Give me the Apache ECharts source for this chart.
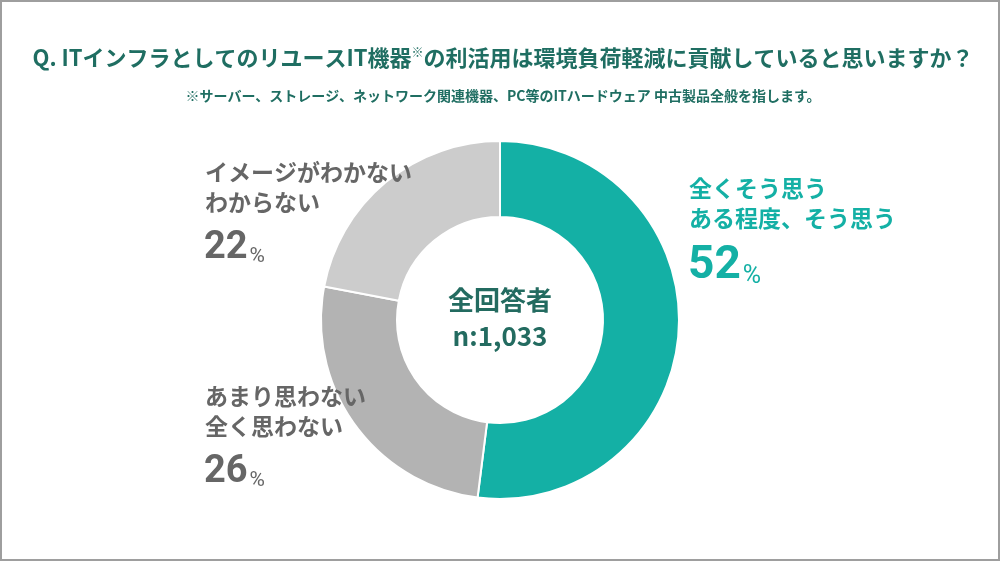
<!DOCTYPE html>
<html><head><meta charset="utf-8">
<script src="https://cdn.jsdelivr.net/npm/echarts@6/dist/echarts.min.js"></script>
<style>html,body{margin:0;padding:0;background:#fff}#c{width:1000px;height:561px}</style>
</head><body><div id="c"></div>
<script>
const titleMain = 'Q. ITインフラとしてのリユースIT機器';
const titleNote = '※';
const titleRest = 'の利活用は環境負荷軽減に貢献していると思いますか？';
const subtitle = '※サーバー、ストレージ、ネットワーク関連機器、PC等のITハードウェア 中古製品全般を指します。';
const categories = ['全くそう思う\nある程度、そう思う', 'あまり思わない\n全く思わない', 'イメージがわかない\nわからない'];
const values = [52, 26, 22];
const colors = ['#14b0a5', '#b3b3b3', '#cccccc'];
const centerLines = ['全回答者', 'n:1,033'];

const JP = '"Noto Sans CJK JP", "Noto Sans", sans-serif';
const NUM = 'Roboto, "Noto Sans", sans-serif';
const chart = echarts.init(document.getElementById('c'));

function labelBlock(idx, x, y1, yNum, color, numSize, pSize) {
  const lines = categories[idx].split('\n');
  const els = lines.map((t, i) => ({
    type: 'text', x: x, y: y1 + i * 30, z: 100,
    style: { text: t, fill: color, font: 'bold 23px ' + JP, align: 'left', verticalAlign: 'middle' }
  }));
  els.push({
    type: 'text', x: x - 1, y: yNum, z: 100,
    style: {
      text: '{n|' + values[idx] + '}{p|%}', align: 'left', verticalAlign: 'middle',
      rich: {
        n: { fontSize: numSize, fontWeight: 'bold', fontFamily: NUM, fill: color, verticalAlign: 'bottom', lineHeight: numSize },
        p: { fontSize: pSize, fontWeight: 'normal', fontFamily: NUM, fill: color, verticalAlign: 'bottom', lineHeight: numSize, padding: [0, 0, 0, 2] }
      }
    }
  });
  return els;
}

const option = {
  backgroundColor: '#fff',
  animation: false,
  series: [{
    type: 'pie',
    z: 2,
    center: [500, 320],
    radius: [103, 179],
    startAngle: 90,
    clockwise: true,
    label: { show: false },
    labelLine: { show: false },
    emphasis: { disabled: true },
    itemStyle: { borderColor: '#fff', borderWidth: 2 },
    data: values.map((v, i) => ({ value: v, name: categories[i], itemStyle: { color: colors[i] } }))
  }],
  graphic: [
    { type: 'rect', z: 100, shape: { x: 1, y: 1, width: 998, height: 559 }, style: { fill: 'none', stroke: '#9e9e9e', lineWidth: 2 } },
    { type: 'text', z: 100, x: 503, y: 58, style: {
      text: '{a|' + titleMain + '}{s|' + titleNote + '}{a|' + titleRest + '}',
      align: 'center', verticalAlign: 'middle',
      rich: {
        a: { fontSize: 22, fontWeight: 'bold', fontFamily: JP, fill: '#1f6e62' },
        s: { fontSize: 12, fontWeight: 'bold', fontFamily: JP, fill: '#1f6e62', verticalAlign: 'top', padding: [0, 0, 12, 0] }
      } } },
    { type: 'text', z: 100, x: 503, y: 96, style: { text: subtitle, align: 'center', verticalAlign: 'middle', fill: '#1f6e62', font: 'bold 14px ' + JP } },
    { type: 'text', z: 100, x: 500, y: 300, style: { text: centerLines[0], align: 'center', verticalAlign: 'middle', fill: '#236b60', font: 'bold 26px ' + JP } },
    { type: 'text', z: 100, x: 500, y: 336, style: { text: centerLines[1], align: 'center', verticalAlign: 'middle', fill: '#236b60', font: 'bold 26px ' + JP } },
    ...labelBlock(0, 689, 188, 266, '#14b0a5', 46, 25),
    ...labelBlock(2, 205, 172, 248, '#666666', 38, 21),
    ...labelBlock(1, 205, 396, 472, '#666666', 38, 21)
  ]
};
chart.setOption(option);
</script></body></html>
